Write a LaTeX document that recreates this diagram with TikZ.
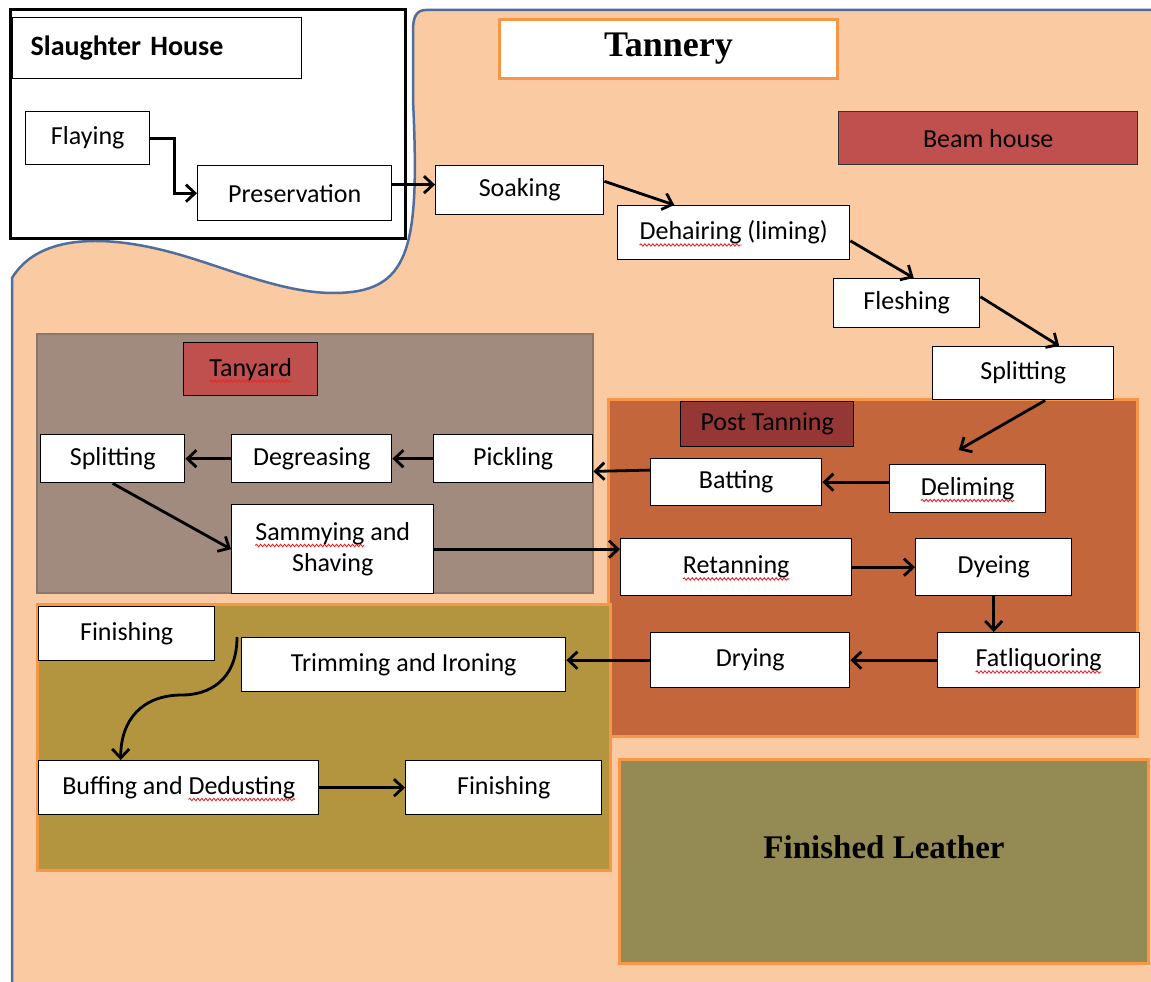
\documentclass[tikz,border=0pt]{standalone}
\usepackage{fontspec}
\setmainfont{Carlito}
\newfontfamily\titlefont{Liberation Serif}
\usetikzlibrary{arrows.meta,decorations.pathmorphing}
\definecolor{peach}{RGB}{250,202,163}
\definecolor{edgeblue}{RGB}{79,110,155}
\definecolor{zoneorange}{RGB}{247,150,70}
\definecolor{tanyardfill}{RGB}{160,139,126}
\definecolor{tanyardedge}{RGB}{138,118,106}
\definecolor{postfill}{RGB}{196,102,60}
\definecolor{finfill}{RGB}{179,149,64}
\definecolor{leatherfill}{RGB}{148,138,84}
\definecolor{labelred}{RGB}{192,80,77}
\definecolor{postred}{RGB}{149,55,53}
\definecolor{spellred}{RGB}{230,40,40}
% red spell-check wave under a word
\newsavebox\wavebox
\newcommand\redwave[1]{\sbox\wavebox{#1}%
  \rlap{\tikz[overlay,baseline=0pt]\draw[spellred, line width=0.9pt, decorate,
    decoration={snake, amplitude=1.2pt, segment length=4pt}] (0pt,-5pt) -- (\wd\wavebox,-5pt);}%
  \usebox\wavebox}
\tikzset{
  procbox/.style 2 args={draw=black, line width=1.4pt, fill=white, anchor=north west,
    minimum width=#1pt, minimum height=#2pt, inner sep=0pt, align=center,
    font=\fontsize{26}{31}\selectfont},
  zone/.style={draw=zoneorange, line width=3pt},
  arr/.style={line width=2.8pt, -{Straight Barb[length=9pt,width=17pt,line width=2.8pt]}},
}

\begin{document}
\begin{tikzpicture}[x=1pt,y=-1pt]
  \useasboundingbox (0,0) rectangle (1151,982);
  \fill[white] (0,0) rectangle (1151,982);

  % tannery ground
  \fill[peach] (1151,10) -- (426,10) .. controls (417,10) and (413,16) .. (413,30) -- (413,100)
    .. controls (420,250) and (410,293) .. (333,293) .. controls (280,293) and (220,265) .. (170,252)
    .. controls (110,236) and (40,232) .. (12,278) -- (12,982) -- (1151,982) -- cycle;
  \draw[edgeblue, line width=2.5pt] (1151,10) -- (426,10) .. controls (417,10) and (413,16) .. (413,30) -- (413,100)
    .. controls (420,250) and (410,293) .. (333,293) .. controls (280,293) and (220,265) .. (170,252)
    .. controls (110,236) and (40,232) .. (12,278) -- (12,982);

  % slaughter house
  \draw[black, line width=3pt, fill=white] (10,10) rectangle (405,238);
  \node[procbox={289}{61}, text width=253pt, inner xsep=18pt, align=left,
    font=\fontsize{28}{32}\selectfont\bfseries] (shlabel) at (12,17) {Slaughter House};
  \node[procbox={124}{53}] (flay) at (25,111) {Flaying};
  \node[procbox={194}{55}] (pres) at (197,165) {Preservation};

  % tannery title and beam house
  \node[procbox={338}{59}, draw=zoneorange, line width=3pt,
    font=\fontsize{36}{40}\selectfont\titlefont\bfseries] (tantitle) at (498,18) {Tannery};
  \node[procbox={299}{53}, fill=labelred, draw=black!80] (beamlabel) at (838,111) {Beam house};

  % zones
  \draw[tanyardedge, line width=2pt, fill=tanyardfill] (37,334) rectangle (593,593);
  \draw[zone, fill=postfill] (608,399) rectangle (1137,736);
  \draw[zone, fill=finfill] (37,604) rectangle (610,870);
  \draw[zone, fill=leatherfill] (619,759) rectangle (1148,963);
  \node[font=\fontsize{33}{37}\selectfont\titlefont\bfseries] (leather) at (884,847) {Finished Leather};

  \node[procbox={134}{53}, fill=labelred] (tanlabel) at (183,342) {\redwave{Tanyard}};
  \node[procbox={173}{45}, fill=postred] (postlabel) at (680,401) {Post Tanning};
  \node[procbox={176}{54}] (finlabel) at (38,606) {Finishing};

  % beam house steps
  \node[procbox={168}{49}] (soak) at (435,165) {Soaking};
  \node[procbox={232}{54}] (dehair) at (617,205) {\redwave{Dehairing} (liming)};
  \node[procbox={146}{49}] (flesh) at (833,278) {Fleshing};
  \node[procbox={181}{53}] (splitA) at (932,346) {Splitting};

  % post tanning steps
  \node[procbox={156}{48}] (delim) at (889,464) {\redwave{Deliming}};
  \node[procbox={171}{47}] (bat) at (650,458) {Batting};
  \node[procbox={231}{57}] (retan) at (620,538) {\redwave{Retanning}};
  \node[procbox={156}{57}] (dye) at (915,538) {Dyeing};
  \node[procbox={202}{55}] (fat) at (937,632) {\redwave{Fatliquoring}};
  \node[procbox={199}{55}] (dry) at (650,632) {Drying};

  % tanyard steps
  \node[procbox={159}{48}] (pick) at (433,434) {Pickling};
  \node[procbox={160}{48}] (degr) at (231,434) {Degreasing};
  \node[procbox={144}{48}] (splitB) at (40,434) {Splitting};
  \node[procbox={202}{89}] (samm) at (231,504) {\redwave{Sammying} and\\Shaving};

  % finishing steps
  \node[procbox={324}{54}] (trim) at (241,637) {Trimming and Ironing};
  \node[procbox={280}{54}] (buff) at (38,760) {Buffing and \redwave{Dedusting}};
  \node[procbox={196}{54}] (fin) at (405,760) {Finishing};

  % arrows
  \draw[arr] (flay.east) -- ++(24,0) |- (pres.west);
  \draw[arr] (pres.5) -- (soak.west |- pres.5);
  \draw[arr] (soak.6) -- (dehair.155);
  \draw[arr] (dehair.-4) -- ([xshift=7pt]flesh.north);
  \draw[arr] (flesh.5) -- ([xshift=36pt]splitA.north);
  \draw[arr] ([xshift=22pt]splitA.south) -- ([xshift=-9pt,yshift=14pt]delim.north);
  \draw[arr] (delim.west |- bat.east) -- (bat.east);
  \draw[arr] (bat.172) -- (pick.-9);
  \draw[arr] (pick.west) -- (degr.east);
  \draw[arr] (degr.west) -- (splitB.east);
  \draw[arr] (splitB.south) -- (samm.west);
  \draw[arr] (samm.east) -- (samm.east -| retan.west);
  \draw[arr] (retan.east) -- (dye.west);
  \draw[arr] (dye.south) -- (dye.south |- fat.north);
  \draw[arr] (fat.west) -- (dry.east);
  \draw[arr] (dry.west) -- (dry.west -| trim.east);
  \coordinate (curvemid) at (182,695);
  \draw[arr] ([xshift=-4pt]trim.north west) .. controls +(0,45) and +(25,0) .. (curvemid)
    .. controls +(-40,0) and +(0,-40) .. ([xshift=-58pt]buff.north);
  \draw[arr] (buff.east) -- (fin.west);
\end{tikzpicture}
\end{document}
